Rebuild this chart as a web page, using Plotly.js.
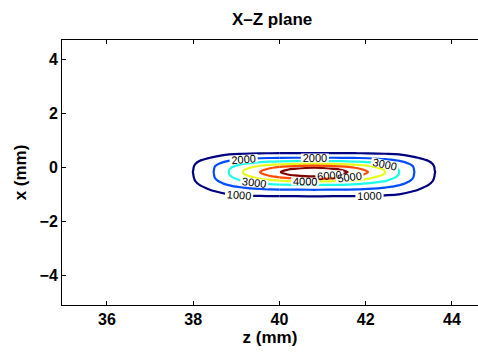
<!DOCTYPE html>
<html>
<head>
<meta charset="utf-8">
<script src="https://cdn.plot.ly/plotly-3.0.1.min.js"></script>
<style>html,body{margin:0;padding:0;background:#fff;overflow:hidden}</style>
</head>
<body>
<div id="chart" style="width:478px;height:352px"></div>
<script>
// z (mm) sample positions of the field (columns)
const zPositions = [37.4, 38.0, 38.48, 38.83, 39.15, 39.55, 39.78, 40.01, 40.35, 40.8,
                    41.25, 41.59, 41.82, 42.05, 42.45, 42.77, 43.12, 43.6, 44.2];
// x (mm) sample positions of the field (rows, bottom to top)
const xPositions = [-1.47, -1.06, -0.82, -0.645, -0.515, -0.425, -0.375, -0.33, -0.26, -0.17,
                    -0.082, -0.01, 0.03, 0.07, 0.14, 0.24, 0.36, 0.53, 0.83];
// field values, one quadrant from the centre outward
// (rows: distance from centre in x, columns: distance from centre in z)
const quadrantValues = [
  [6800, 6540, 5985, 5387, 5015, 4015, 3015, 2015, 1015, 0],
  [6553, 6294, 5665, 5231, 4815, 3901, 2978, 1995,  995, 0],
  [6015, 5633, 5210, 4918, 4450, 3652, 2881, 1976,  985, 0],
  [5400, 5226, 4942, 4564, 4214, 3476, 2785, 1949,  970, 0],
  [5015, 4815, 4485, 4229, 3964, 3293, 2667, 1907,  950, 0],
  [4015, 3938, 3770, 3600, 3393, 2955, 2414, 1792,  900, 0],
  [3015, 2983, 2913, 2820, 2690, 2370, 2044, 1560,  760, 0],
  [2015, 1995, 1974, 1938, 1877, 1703, 1496, 1100,  600, 0],
  [1015,  999,  995,  985,  967,  900,  805,  620,  300, 0],
  [   0,    0,    0,    0,    0,    0,    0,    0,    0, 0]
];
const contourLevels = [1000, 2000, 3000, 4000, 5000, 6000];
const levelColors = ['#000080', '#004cff', '#1affe6', '#e6ff1a', '#ff4c00', '#800000'];
const zTicks = [36, 38, 40, 42, 44];
const xTicks = [-4, -2, 0, 2, 4];
// the field is drawn as two column blocks sharing one column, so each side gets its own labels
const blockSplitColumn = 7;

// build the full grid by reflecting the quadrant about the centre sample
const mid = (zPositions.length - 1) / 2;
const field = xPositions.map((_, r) =>
  zPositions.map((_, c) => quadrantValues[Math.abs(r - mid)][Math.abs(c - mid)]));

const fontFam = 'Arial, "Liberation Sans", Helvetica, sans-serif';
const step = contourLevels[1] - contourLevels[0];

// contour trace for a range of levels (i0..i1) over a block of columns (c0..c1)
function block(i0, i1, c0, c1) {
  const lv = contourLevels.slice(i0, i1 + 1);
  const cols = levelColors.slice(i0, i1 + 1);
  const scale = lv.length > 1
    ? lv.map((L, k) => [k / (lv.length - 1), cols[k]])
    : [[0, cols[0]], [1, cols[0]]];
  return {
    type: 'contour',
    x: zPositions.slice(c0, c1 + 1),
    y: xPositions,
    z: field.map(row => row.slice(c0, c1 + 1)),
    autocontour: false,
    contours: {
      start: lv[0], end: lv[lv.length - 1], size: step,
      coloring: 'lines', showlabels: true, labelformat: 'd',
      labelfont: {family: fontFam, size: 11, color: '#000'}
    },
    colorscale: scale,
    zauto: false, zmin: lv[0], zmax: lv.length > 1 ? lv[lv.length - 1] : lv[0] + step,
    showscale: false,
    line: {width: 2.2, smoothing: 1},
    hoverinfo: 'skip'
  };
}
const last = contourLevels.length - 1;
const lastCol = zPositions.length - 1;
const traces = [
  block(0, last - 1, 0, blockSplitColumn),
  block(0, last - 1, blockSplitColumn, lastCol),
  block(last, last, blockSplitColumn, lastCol)
];

const axisCommon = {
  ticks: 'inside', ticklen: 4, tickwidth: 1, tickcolor: '#000',
  showline: true, linecolor: '#000', linewidth: 1,
  showgrid: false, zeroline: false,
  tickfont: {family: fontFam, size: 16, color: '#000', weight: 'bold'}
};

const layout = {
  width: 478, height: 352,
  margin: {l: 62, r: 0, t: 40, b: 47},
  paper_bgcolor: '#fff', plot_bgcolor: '#fff',
  showlegend: false,
  title: {
    text: '<b>X\u2013Z plane</b>',
    font: {family: fontFam, size: 17, color: '#000'},
    x: 0.505, xanchor: 'center', xref: 'paper',
    y: 1 - 19 / 352, yanchor: 'middle'
  },
  xaxis: Object.assign({}, axisCommon, {
    range: [34.957, 44.603], tickmode: 'array', tickvals: zTicks,
    mirror: 'ticks',
    title: {text: '<b>z (mm)</b>', font: {family: fontFam, size: 17, color: '#000'}, standoff: 2}
  }),
  yaxis: Object.assign({}, axisCommon, {
    range: [-5.083, 4.713], tickmode: 'array', tickvals: xTicks,
    mirror: false,
    title: {text: '<b>x (mm)</b>', font: {family: fontFam, size: 17, color: '#000'}, standoff: 8}
  })
};

Plotly.newPlot('chart', traces, layout, {staticPlot: true, displayModeBar: false});
</script>
</body>
</html>
